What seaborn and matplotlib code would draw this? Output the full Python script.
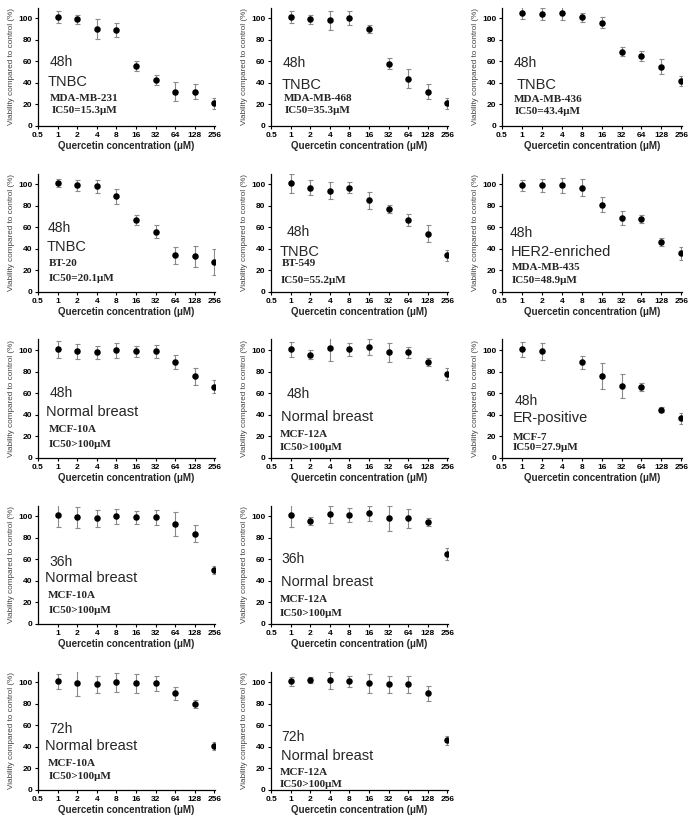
import numpy as np
import pandas as pd
import matplotlib
matplotlib.use("Agg")
import matplotlib.pyplot as plt
import seaborn as sns

sns.set_theme(style="ticks")
plt.rcParams['font.family'] = ['Liberation Sans', 'DejaVu Sans']

conc = [1, 2, 4, 8, 16, 32, 64, 128, 256]
conc_mcf7 = [1, 2, 8, 16, 32, 64, 128, 256]
xtick_vals = [0.5, 1, 2, 4, 8, 16, 32, 64, 128, 256]
xtick_labels = ["0.5", "1", "2", "4", "8", "16", "32", "64", "128", "256"]
ytick_vals = [0, 20, 40, 60, 80, 100]

hours = ["48h", "48h", "48h", "48h", "48h", "48h", "48h", "48h", "48h",
         "36h", "36h", "72h", "72h"]
subtypes = ["TNBC", "TNBC", "TNBC", "TNBC", "TNBC", "HER2-enriched",
            "Normal breast", "Normal breast", "ER-positive",
            "Normal breast", "Normal breast", "Normal breast", "Normal breast"]
cell_lines = ["MDA-MB-231", "MDA-MB-468", "MDA-MB-436", "BT-20", "BT-549",
              "MDA-MB-435", "MCF-10A", "MCF-12A", "MCF-7",
              "MCF-10A", "MCF-12A", "MCF-10A", "MCF-12A"]
ic50 = ["IC50=15.3μM", "IC50=35.3μM", "IC50=43.4μM", "IC50=20.1μM",
        "IC50=55.2μM", "IC50=48.9μM", "IC50>100μM", "IC50>100μM",
        "IC50=27.9μM", "IC50>100μM", "IC50>100μM", "IC50>100μM", "IC50>100μM"]

mda231 = [101, 99, 90, 89, 56, 43, 32, 32, 21]
mda231_err = [5.5, 4, 9, 6.5, 4.5, 4.8, 9, 6.7, 5.4]
mda468 = [101, 99, 98, 100, 90, 58, 44, 32, 21]
mda468_err = [5.5, 4, 8.7, 6.5, 4, 4.7, 8.5, 6.7, 5.4]
mda436 = [105, 104, 105, 101, 96, 69, 65, 55, 42]
mda436_err = [5.7, 5.5, 7, 4, 5, 4, 5, 7, 4.8]
bt20 = [101, 99, 98, 89, 67, 56, 34, 33, 28]
bt20_err = [3.6, 4.8, 6, 7, 4.7, 6, 8.2, 9.4, 12]
bt549 = [101, 97, 94, 97, 85, 77, 67, 54, 34]
bt549_err = [8.7, 7.3, 8, 5, 8, 4, 5.3, 8, 5.3]
mda435 = [99, 99, 99, 97, 81, 69, 68, 46, 36]
mda435_err = [5, 6.3, 7, 7.5, 7, 6.4, 3.8, 3.7, 6.2]
mcf10a_48 = [101, 99, 98, 100, 99, 99, 89, 76, 66]
mcf10a_48_err = [8, 7, 6, 7, 5, 6, 6.6, 8, 6]
mcf12a_48 = [101, 96, 102, 101, 103, 98, 98, 89, 78]
mcf12a_48_err = [6.8, 3.8, 12, 6, 7, 9, 4.8, 4, 6]
mcf7_48 = [101, 99, 89, 76, 67, 66, 45, 37]
mcf7_48_err = [6.8, 8, 6, 12, 11, 3.6, 2.5, 5]
mcf10a_36 = [101, 99, 98, 100, 99, 99, 93, 84, 50]
mcf10a_36_err = [10.5, 9.5, 8, 7, 6, 6.7, 11, 7.7, 4]
mcf12a_36 = [101, 96, 102, 101, 103, 98, 98, 95, 65]
mcf12a_36_err = [10.5, 3.7, 8, 6.3, 7, 12, 9, 3.8, 6]
mcf10a_72 = [101, 99, 98, 100, 99, 99, 90, 80, 41]
mcf10a_72_err = [7, 11.5, 8, 8.8, 8.7, 7, 6, 4, 4]
mcf12a_72 = [101, 102, 102, 101, 99, 98, 98, 90, 46]
mcf12a_72_err = [4, 3, 8, 5, 9, 8, 8, 7, 4]

series = [
    (conc, mda231, mda231_err), (conc, mda468, mda468_err),
    (conc, mda436, mda436_err), (conc, bt20, bt20_err),
    (conc, bt549, bt549_err), (conc, mda435, mda435_err),
    (conc, mcf10a_48, mcf10a_48_err), (conc, mcf12a_48, mcf12a_48_err),
    (conc_mcf7, mcf7_48, mcf7_48_err), (conc, mcf10a_36, mcf10a_36_err),
    (conc, mcf12a_36, mcf12a_36_err), (conc, mcf10a_72, mcf10a_72_err),
    (conc, mcf12a_72, mcf12a_72_err),
]

# text placement (axes fraction): (x,y) for hour, subtype, cell line, ic50
text_pos = [
    [(0.066, 0.544), (0.053, 0.375), (0.066, 0.234), (0.079, 0.127)],
    [(0.066, 0.53), (0.06, 0.347), (0.07, 0.228), (0.079, 0.127)],
    [(0.067, 0.53), (0.079, 0.347), (0.067, 0.225), (0.07, 0.12)],
    [(0.057, 0.538), (0.049, 0.383), (0.062, 0.237), (0.058, 0.113)],
    [(0.089, 0.51), (0.047, 0.335), (0.06, 0.237), (0.056, 0.10)],
    [(0.043, 0.496), (0.048, 0.335), (0.055, 0.206), (0.055, 0.099)],
    [(0.066, 0.549), (0.043, 0.39), (0.062, 0.239), (0.062, 0.118)],
    [(0.088, 0.538), (0.056, 0.349), (0.051, 0.20), (0.051, 0.087)],
    [(0.07, 0.479), (0.057, 0.341), (0.061, 0.177), (0.061, 0.085)],
    [(0.066, 0.527), (0.04, 0.386), (0.058, 0.239), (0.058, 0.11)],
    [(0.056, 0.547), (0.056, 0.358), (0.051, 0.206), (0.051, 0.09)],
    [(0.066, 0.518), (0.04, 0.375), (0.058, 0.225), (0.058, 0.113)],
    [(0.056, 0.45), (0.056, 0.29), (0.051, 0.145), (0.051, 0.05)],
]

W, H = 694, 824
fig = plt.figure(figsize=(W / 100, H / 100), dpi=100)
col_left = [38, 271, 502]
col_w = [177, 177, 180]
row_y0 = [126, 292, 458, 624, 790]
ax_h = 118.5

for i, (xs, ys, es) in enumerate(series):
    r, c = divmod(i, 3)
    if i >= 11:
        r, c = 4, i - 11
    elif i >= 9:
        r, c = 3, i - 9
    left = col_left[c] / W
    bottom = 1 - row_y0[r] / H
    ax = fig.add_axes([left, bottom, col_w[c] / W, ax_h / H])
    df = pd.DataFrame({"conc": xs, "viab": ys, "err": es})
    ax.errorbar(df["conc"], df["viab"], yerr=df["err"], fmt="none",
                ecolor="#8a8a8a", elinewidth=0.8, capsize=1.8, capthick=0.8,
                zorder=2)
    sns.scatterplot(data=df, x="conc", y="viab", ax=ax, color="black",
                    s=22, edgecolor="black", linewidth=0, zorder=3,
                    legend=False)
    ax.set_xscale("log", base=2)
    ax.set_xlim(0.5, 262)
    ax.set_ylim(0, 110)
    if i == 9:
        ax.set_xticks(xtick_vals[1:])
        ax.set_xticklabels(xtick_labels[1:])
    else:
        ax.set_xticks(xtick_vals)
        ax.set_xticklabels(xtick_labels)
    ax.minorticks_off()
    ax.set_yticks(ytick_vals)
    ax.set_yticklabels([str(v) for v in ytick_vals])
    ax.tick_params(axis="both", labelsize=6, length=2.5, width=0.8,
                   pad=1.5, colors="black")
    for lab in ax.get_xticklabels() + ax.get_yticklabels():
        lab.set_fontweight("bold")
    ax.set_xlabel("Quercetin concentration (μM)", fontsize=7,
                  fontweight="bold", labelpad=2)
    ax.set_ylabel("Viability compared to control (%)", fontsize=5.9,
                  color="#444444", labelpad=2)
    sns.despine(ax=ax)
    for sp in ["left", "bottom"]:
        ax.spines[sp].set_linewidth(0.9)
        ax.spines[sp].set_color("black")
    tp = text_pos[i]
    ax.text(tp[0][0], tp[0][1], hours[i], transform=ax.transAxes,
            fontsize=10, va="center", ha="left")
    ax.text(tp[1][0], tp[1][1], subtypes[i], transform=ax.transAxes,
            fontsize=10.5, va="center", ha="left")
    ax.text(tp[2][0], tp[2][1], cell_lines[i], transform=ax.transAxes,
            fontsize=8, va="center", ha="left", fontweight="bold",
            family=["Liberation Serif", "DejaVu Serif"])
    ax.text(tp[3][0], tp[3][1], ic50[i], transform=ax.transAxes,
            fontsize=8, va="center", ha="left", fontweight="bold",
            family=["Liberation Serif", "DejaVu Serif"])

fig.savefig("out.png", dpi=100)
